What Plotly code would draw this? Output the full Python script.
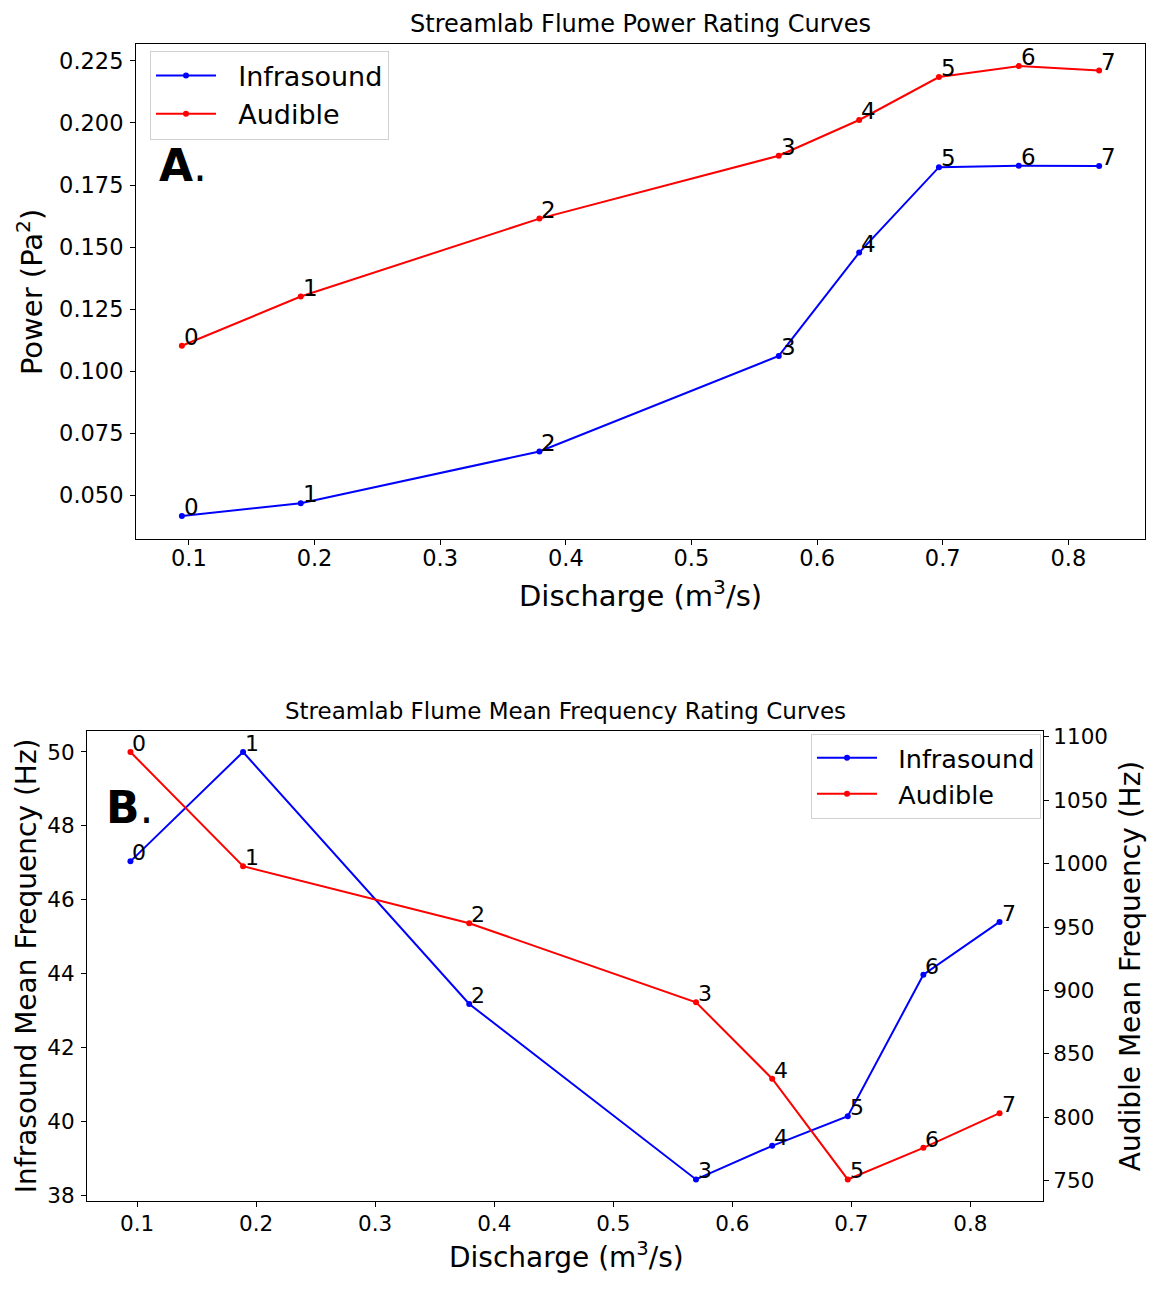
import plotly.graph_objects as go

# Flume discharge for each run (m^3/s) and run labels
discharge = [0.0944, 0.1890, 0.3790, 0.5695, 0.6335, 0.6970, 0.7605, 0.8245]
run_labels = ["0", "1", "2", "3", "4", "5", "6", "7"]

# Acoustic power (Pa^2)
infra_power = [0.0417, 0.0469, 0.0677, 0.1062, 0.1478, 0.1822, 0.1828, 0.1827]
audible_power = [0.1103, 0.1301, 0.1615, 0.1868, 0.2012, 0.2185, 0.2229, 0.2211]

# Mean frequency (Hz)
infra_freq = [47.04, 50.00, 43.18, 38.43, 39.34, 40.14, 43.97, 45.40]
audible_freq = [1087.9, 997.9, 953.0, 890.7, 830.5, 751.1, 776.0, 803.3]

W, H = 1152, 1289
FONT = "DejaVu Sans"
BLUE = "#0000ff"
RED = "#ff0000"
NB = "\u00a0\u00a0"  # gap between legend sample and entry text


def px_x(p):
    return p / W


def px_y(p):
    return 1 - p / H


def padded(vals, frac=0.05):
    lo, hi = min(vals), max(vals)
    d = (hi - lo) * frac
    return [lo - d, hi + d]


fig = go.Figure()


def add_series(x, y, color, name, xa, ya, legend, label_size):
    fig.add_trace(go.Scatter(
        x=x, y=y, mode="lines+markers", name=NB + name,
        line=dict(color=color, width=2),
        marker=dict(color=color, size=6),
        xaxis=xa, yaxis=ya, legend=legend,
    ))
    # run number written just above-right of each point
    for xi, yi, t in zip(x, y, run_labels):
        fig.add_annotation(
            x=xi, y=yi, xref=xa, yref=ya, text=t, showarrow=False,
            xanchor="left", yanchor="bottom", xshift=0, yshift=-6,
            font=dict(family=FONT, size=label_size, color="black"),
        )


# Panel A: power rating curves
add_series(discharge, infra_power, BLUE, "Infrasound", "x", "y", "legend", 23)
add_series(discharge, audible_power, RED, "Audible", "x", "y", "legend", 23)

# Panel B: mean frequency rating curves (audible on the right axis)
add_series(discharge, infra_freq, BLUE, "Infrasound", "x2", "y2", "legend2", 22)
add_series(discharge, audible_freq, RED, "Audible", "x2", "y3", "legend2", 22)


def axis_style(size, standoff=2, mirror=True):
    d = dict(
        showline=True, linecolor="black", linewidth=1,
        ticks="outside", ticklen=5, tickwidth=1, tickcolor="black",
        showgrid=False, zeroline=False, ticklabelstandoff=standoff,
        tickfont=dict(family=FONT, size=size, color="black"),
    )
    if mirror:
        d["mirror"] = True
    return d


xr = padded(discharge)

fig.update_layout(
    width=W, height=H,
    margin=dict(l=0, r=0, t=0, b=0),
    paper_bgcolor="white", plot_bgcolor="white",
    font=dict(family=FONT, color="black"),
    xaxis=dict(domain=[px_x(136), px_x(1145)], anchor="y", range=xr,
               dtick=0.1, tick0=0.1, tickformat=".1f",
               **axis_style(22.5, standoff=-6)),
    yaxis=dict(domain=[px_y(538), px_y(38)], anchor="x",
               range=padded(infra_power + audible_power),
               dtick=0.025, tick0=0.05, tickformat=".3f", **axis_style(22.5)),
    xaxis2=dict(domain=[px_x(87), px_x(1043)], anchor="y2", range=xr,
                dtick=0.1, tick0=0.1, tickformat=".1f",
                **axis_style(21.5, standoff=-2)),
    yaxis2=dict(domain=[px_y(1207), px_y(732)], anchor="x2",
                range=padded(infra_freq), dtick=2, **axis_style(21.5)),
    yaxis3=dict(overlaying="y2", side="right", anchor="x2",
                range=padded(audible_freq), dtick=50,
                **axis_style(21.5, standoff=0, mirror=False)),
    legend=dict(x=px_x(150), y=px_y(45), xanchor="left", yanchor="top",
                bgcolor="white", bordercolor="#d0d0d0", borderwidth=1,
                font=dict(family=FONT, size=27, color="black"),
                itemwidth=60),
    legend2=dict(x=px_x(811), y=px_y(735), xanchor="left", yanchor="top",
                 bgcolor="white", bordercolor="#d0d0d0", borderwidth=1,
                 font=dict(family=FONT, size=25.5, color="black"),
                 itemwidth=60),
)


def label(text, x, y, size, angle=0, xanchor="center", yanchor="middle"):
    fig.add_annotation(
        text=text, x=px_x(x), y=px_y(y), xref="paper", yref="paper",
        showarrow=False, textangle=angle, xanchor=xanchor, yanchor=yanchor,
        font=dict(family=FONT, size=size, color="black"),
    )


# Titles and axis labels
label("Streamlab Flume Power Rating Curves", 640, 18, 24)
label("Discharge (m<sup>3</sup>/s)", 640, 594, 29)
label("Power (Pa<sup>2</sup>)", 30, 289, 29, angle=-90)
label("<b>A</b>.", 157, 161, 44, xanchor="left")

label("Streamlab Flume Mean Frequency Rating Curves", 565, 712, 23)
label("Discharge (m<sup>3</sup>/s)", 566, 1262, 28)
label("Infrasound Mean Frequency (Hz)", 26, 970, 28, angle=-90)
label("Audible Mean Frequency (Hz)", 1130, 970, 28, angle=-90)
label("<b>B</b>.", 104, 810, 44, xanchor="left")

fig.write_html("out.html")
